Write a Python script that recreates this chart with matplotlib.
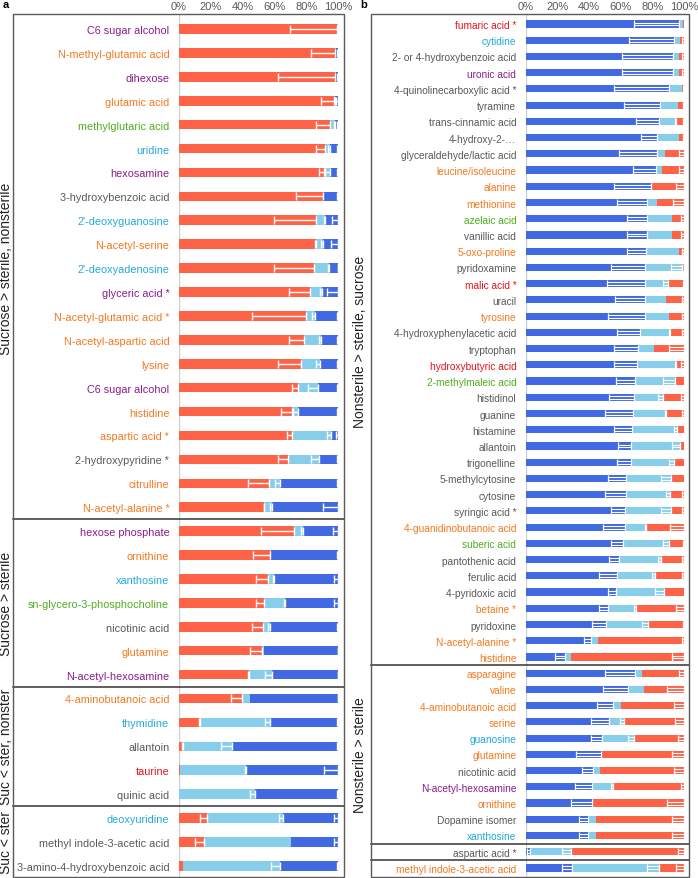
import numpy as np
import matplotlib
matplotlib.use("Agg")
import matplotlib.pyplot as plt
from matplotlib.patches import Rectangle
from matplotlib.transforms import blended_transform_factory

plt.rcParams['font.family'] = ['Liberation Sans', 'DejaVu Sans']

# colours
RED = '#FF6347'
LBLUE = '#87CEEB'
BLUE = '#4169E1'
PUR = '#8B1C8D'
ORA = '#F5781E'
GRN = '#4FAE1E'
CYA = '#22A9DA'
GRY = '#595959'
RD = '#E3141C'

# ---------------- panel a: red (sucrose), light blue (sterile), blue (nonsterile)
labels_a = ['C6 sugar alcohol', 'N-methyl-glutamic acid', 'dihexose', 'glutamic acid',
            'methylglutaric acid', 'uridine', 'hexosamine', '3-hydroxybenzoic acid',
            "2'-deoxyguanosine", 'N-acetyl-serine', "2'-deoxyadenosine", 'glyceric acid *',
            'N-acetyl-glutamic acid *', 'N-acetyl-aspartic acid', 'lysine', 'C6 sugar alcohol',
            'histidine', 'aspartic acid *', '2-hydroxypyridine *', 'citrulline',
            'N-acetyl-alanine *',
            'hexose phosphate', 'ornithine', 'xanthosine', 'sn-glycero-3-phosphocholine',
            'nicotinic acid', 'glutamine', 'N-acetyl-hexosamine',
            '4-aminobutanoic acid', 'thymidine', 'allantoin', 'taurine', 'quinic acid',
            'deoxyuridine', 'methyl indole-3-acetic acid', '3-amino-4-hydroxybenzoic acid']
colors_a = [PUR, ORA, PUR, ORA, GRN, CYA, PUR, GRY, CYA, ORA, CYA, PUR, ORA, ORA, ORA, PUR,
            ORA, ORA, GRY, ORA, ORA,
            PUR, ORA, CYA, GRN, GRY, ORA, PUR,
            ORA, CYA, GRY, RD, GRY,
            CYA, GRY, GRY]
red_a = [99.4, 98.3, 98.3, 97.3, 95.2, 92.0, 91.0, 90.4, 86.0, 86.0, 85.1, 82.6, 79.7, 78.4,
         76.7, 74.6, 71.3, 71.3, 68.3, 56.6, 53.7,
         72.5, 57.4, 55.8, 53.2, 53.0, 52.4, 44.0,
         39.8, 13.4, 2.5, 0.6, 0.0,
         17.6, 15.5, 2.5]
lb_a = [0.3, 0.5, 0.5, 0.8, 3.1, 3.1, 3.8, 0.3, 6.1, 4.6, 9.4, 7.3, 6.1, 11.1,
        12.2, 12.8, 3.6, 24.5, 19.5, 7.1, 4.8,
        5.2, 0.6, 4.2, 13.3, 4.0, 0.8, 14.5,
        5.0, 44.0, 30.8, 41.7, 48.0,
        47.8, 54.9, 61.2]
blue_a = [0.3, 1.2, 1.2, 1.9, 1.7, 4.9, 5.2, 9.3, 7.9, 9.4, 5.5, 10.1, 14.2, 10.5,
          11.1, 12.6, 25.1, 4.2, 12.2, 36.3, 41.5,
          22.3, 42.0, 40.0, 33.5, 43.0, 46.8, 41.5,
          55.2, 42.6, 66.7, 57.7, 52.0,
          34.6, 29.6, 36.3]
red_err_a = [29.8, 15.3, 36.1, 8.0, 8.8, 6.1, 2.9, 17.0, 26.4, 0.6, 25.2, 13.4, 33.8, 9.2,
             14.7, 3.8, 7.1, 3.4, 5.9, 13.2, 0.5,
             21.0, 11.1, 7.3, 5.0, 7.1, 7.8, 0.5,
             6.9, 0.8, 0.5, 0, 0,
             4.2, 5.2, 0]
lb_err_a = [0, 0, 0, 0.3, 1.0, 1.5, 2.7, 0, 1.0, 1.0, 0.5, 1.5, 2.1, 1.7,
            3.0, 6.5, 3.0, 3.0, 4.8, 3.1, 1.0,
            0.8, 0, 1.0, 0.6, 1.0, 0, 4.2,
            0, 3.6, 6.9, 0.5, 3.1,
            2.5, 0, 5.9]
blue_err_a = [0, 0.5, 0.5, 1.0, 0.5, 0.5, 0.5, 0.5, 3.8, 4.2, 0.3, 6.9, 0.5, 0.5,
              0.5, 0.5, 0.5, 1.0, 0.5, 0.5, 9.6,
              3.0, 0.5, 2.7, 2.7, 0.5, 0.3, 0.3,
              0.3, 0.8, 0.5, 8.6, 0.5,
              2.7, 2.7, 0.5]
sections_a = ['Sucrose > sterile, nonsterile', 'Sucrose > sterile',
              'Suc < ster, nonster', 'Suc < ster']
sizes_a = [21, 7, 5, 3]

# ---------------- panel b: blue (nonsterile), light blue (sterile), red (sucrose)
labels_b = ['fumaric acid *', 'cytidine', '2- or 4-hydroxybenzoic acid', 'uronic acid',
            '4-quinolinecarboxylic acid *', 'tyramine', 'trans-cinnamic acid',
            '4-hydroxy-2-\u2026', 'glyceraldehyde/lactic acid', 'leucine/isoleucine',
            'alanine', 'methionine', 'azelaic acid', 'vanillic acid', '5-oxo-proline',
            'pyridoxamine', 'malic acid *', 'uracil', 'tyrosine',
            '4-hydroxyphenylacetic acid', 'tryptophan', 'hydroxybutyric acid',
            '2-methylmaleic acid', 'histidinol', 'guanine', 'histamine', 'allantoin',
            'trigonelline', '5-methylcytosine', 'cytosine', 'syringic acid *',
            '4-guanidinobutanoic acid', 'suberic acid', 'pantothenic acid', 'ferulic acid',
            '4-pyridoxic acid', 'betaine *', 'pyridoxine', 'N-acetyl-alanine *', 'histidine',
            'asparagine', 'valine', '4-aminobutanoic acid', 'serine', 'guanosine',
            'glutamine', 'nicotinic acid', 'N-acetyl-hexosamine', 'ornithine',
            'Dopamine isomer', 'xanthosine',
            'aspartic acid *',
            'methyl indole-3-acetic acid']
colors_b = [RD, CYA, GRY, PUR, GRY, GRY, GRY, GRY, GRY, ORA, ORA, ORA, GRN, GRY, ORA,
            GRY, RD, GRY, ORA, GRY, GRY, RD, GRN, GRY, GRY, GRY, GRY, GRY, GRY, GRY, GRY,
            ORA, GRN, GRY, GRY, GRY, ORA, GRY, ORA, ORA,
            ORA, ORA, ORA, ORA, CYA, ORA, GRY, PUR, ORA, GRY, CYA,
            GRY,
            ORA]
blue_b = [96.8, 93.7, 93.3, 93.3, 90.8, 85.1, 84.0, 83.2, 82.8, 82.1, 79.4, 76.7, 76.3,
          76.3, 75.8, 75.4, 75.4, 75.4, 75.4, 72.3, 71.0, 70.2, 68.9, 68.1, 67.6, 66.8,
          66.4, 66.4, 63.2, 63.2, 62.6, 62.6, 61.3, 58.8, 57.4, 56.7, 52.1, 50.4, 41.2, 24.8,
          68.9, 64.7, 55.3, 52.5, 47.9, 47.3, 42.6, 41.6, 42.0, 39.5, 39.5,
          2.7,
          29.4]
lb_b = [2.5, 3.6, 3.4, 3.4, 8.0, 11.1, 10.7, 13.4, 5.0, 4.2, 0.4, 6.3, 16.4,
        16.4, 21.0, 23.5, 14.5, 13.2, 14.9, 18.7, 10.1, 24.6, 25.2, 18.3, 20.8, 28.8,
        30.9, 27.1, 28.4, 28.2, 29.4, 13.2, 29.0, 26.5, 24.5, 30.7, 17.4, 26.9, 4.6, 3.8,
        4.6, 10.1, 4.6, 9.5, 20.6, 0.2, 4.2, 13.7, 0.6, 4.6, 4.6,
        25.8,
        54.8]
red_b = [0.7, 2.7, 3.3, 3.3, 1.2, 3.8, 5.3, 3.4, 12.2, 13.7, 20.2, 17.0, 7.3,
         7.3, 3.2, 1.1, 10.1, 11.4, 9.7, 9.0, 18.9, 5.2, 5.9, 13.6, 11.6, 4.4,
         2.7, 6.5, 8.4, 8.6, 8.0, 24.2, 9.7, 14.7, 18.1, 12.6, 30.5, 22.7, 54.2, 71.4,
         26.5, 25.2, 40.1, 38.0, 31.5, 52.5, 53.2, 44.7, 57.4, 55.9, 55.9,
         71.5,
         15.8]
blue_err_b = [28.4, 28.4, 32.8, 32.8, 35.3, 23.3, 14.1, 10.1, 23.9, 14.1, 23.5, 19.3, 12.4,
              12.4, 12.0, 21.6, 24.0, 18.9, 23.3, 14.7, 15.5, 14.7, 12.2, 15.3, 17.9, 11.1,
              8.4, 9.0, 11.1, 13.2, 9.0, 13.7, 7.4, 6.1, 10.9, 4.6, 5.9, 8.4, 4.6, 6.3,
              18.9, 15.8, 10.5, 11.3, 6.9, 15.5, 7.4, 10.5, 13.4, 5.7, 5.7,
              2.1,
              6.7]
lb_err_b = [0, 0, 0, 0, 0, 0, 0.5, 0, 0, 0, 0, 0, 0,
            0, 0, 7.0, 3.0, 0, 0, 0.5, 0, 0.5, 7.4, 2.7, 0.5, 2.0,
            4.8, 3.0, 5.9, 3.0, 6.3, 0.5, 3.6, 1.7, 2.3, 5.9, 1.0, 3.6, 0, 0,
            0, 0, 0, 2.5, 3.8, 0, 0, 1.5, 0, 0, 0,
            5.9,
            7.6]
red_err_b = [0, 1.5, 1.5, 1.5, 0.5, 0.5, 0.5, 0.5, 3.4, 3.0, 5.0, 7.0, 2.0,
             2.0, 1.0, 0.3, 0.5, 1.5, 1.0, 1.0, 9.7, 2.0, 0, 2.0, 1.5, 0,
             0, 0, 0, 1.0, 1.0, 8.6, 0.5, 1.5, 1.5, 0, 5.3, 0.5, 1.0, 7.4,
             3.0, 11.0, 6.5, 5.9, 3.8, 7.4, 6.5, 1.7, 10.9, 7.4, 7.4,
             3.8,
             5.3]
sections_b = ['Nonsterile > sterile, sucrose', 'Nonsterile > sterile', '', '']
sizes_b = [40, 11, 1, 1]

W, H = 698, 879
fig = plt.figure(figsize=(W / 100, H / 100), dpi=100)


def draw_panel(box, zero_px, full_px, row0_px, step_px, labels, lab_colors, segs, seg_colors,
               errs, bar_h, double, sections, sizes, lab_size, sec_x):
    left, top, right, bottom = box
    n = len(labels)
    ax = fig.add_axes([zero_px / W, 1 - bottom / H, (right - zero_px) / W, (bottom - top) / H])
    ax.set_xlim(0, 100 * (right - zero_px) / (full_px - zero_px))
    ax.set_ylim((bottom - row0_px) / step_px, (top - row0_px) / step_px)
    for s in ax.spines.values():
        s.set_visible(False)
    ax.axvline(0, color='#d0d0d0', lw=1, zorder=0)
    y = np.arange(n)
    start = np.zeros(n)
    for vals, col, err in zip(segs, seg_colors, errs):
        vals = np.array(vals, dtype=float)
        ax.barh(y, vals, left=start, height=bar_h, color=col, edgecolor='none', zorder=2)
        end = start + vals
        err = np.array(err, dtype=float)
        m = err > 0
        if double:
            for dy in (-0.09, 0.09):
                ax.hlines(y[m] + dy, end[m] - err[m], end[m], color='white', lw=0.8, zorder=3)
            ax.vlines(end[m] - err[m], y[m] - bar_h / 2, y[m] + bar_h / 2, color='white',
                      lw=0.9, zorder=3)
            ax.vlines(end[m], y[m] - bar_h / 2, y[m] + bar_h / 2, color='white',
                      lw=0.9, zorder=3)
        else:
            ax.errorbar(end[m], y[m], xerr=[err[m], np.zeros(m.sum())], fmt='none',
                        ecolor='white', elinewidth=1, capsize=2.6, capthick=1, zorder=3)
        start = end
    ax.xaxis.tick_top()
    ax.set_xticks([0, 20, 40, 60, 80, 100])
    ax.set_xticklabels(['0%', '20%', '40%', '60%', '80%', '100%'])
    ax.tick_params(axis='x', length=0, pad=2, labelsize=8, labelcolor=GRY)
    ax.set_yticks(y)
    ax.set_yticklabels(labels, fontsize=lab_size)
    ax.tick_params(axis='y', length=0, pad=7)
    for t, c in zip(ax.get_yticklabels(), lab_colors):
        t.set_color(c)
    # outer box
    fig.add_artist(Rectangle((left / W, 1 - bottom / H), (right - left) / W, (bottom - top) / H,
                             transform=fig.transFigure, fill=False, ec='#5a5a5a', lw=1))
    tr = blended_transform_factory(fig.transFigure, ax.transData)
    k = 0
    for name, sz in zip(sections, sizes):
        if k > 0:
            ax.plot([left / W, right / W], [k - 0.5, k - 0.5], transform=tr, color='#333333',
                    lw=1.1, clip_on=False, zorder=5)
        if name:
            ax.text(sec_x / W, k + (sz - 1) / 2, name, transform=tr, rotation=90,
                    ha='center', va='center', fontsize=10, color='#222222')
        k += sz
    return ax


draw_panel((13, 15, 344, 878), 179, 338, 30, 23.91, labels_a, colors_a,
           [red_a, lb_a, blue_a], [RED, LBLUE, BLUE], [red_err_a, lb_err_a, blue_err_a],
           0.4, False, sections_a, sizes_a, 7.8, 6)
draw_panel((371, 15, 689, 878), 526, 684, 25, 16.23, labels_b, colors_b,
           [blue_b, lb_b, red_b], [BLUE, LBLUE, RED], [blue_err_b, lb_err_b, red_err_b],
           0.44, True, sections_b, sizes_b, 7.3, 360)

fig.text(3 / W, 1 - 5 / H, 'a', fontsize=8, fontweight='bold', va='center', ha='left')
fig.text(360 / W, 1 - 5 / H, 'b', fontsize=8, fontweight='bold', va='center', ha='left')

fig.savefig('out.png', dpi=100)
